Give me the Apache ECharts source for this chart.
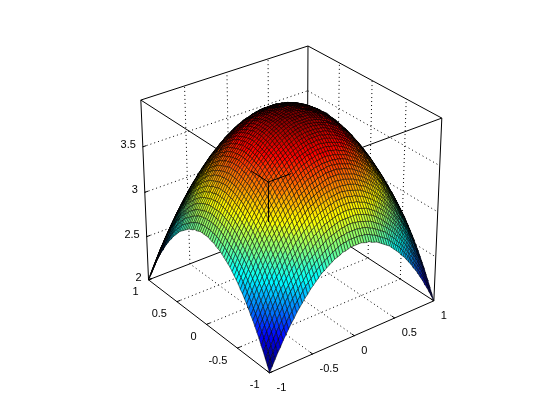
<!DOCTYPE html>
<html><head><meta charset="utf-8"><style>html,body{margin:0;padding:0;background:#fff}#c{width:560px;height:420px}</style>
<script src="https://cdn.jsdelivr.net/npm/echarts@6/dist/echarts.min.js"></script></head><body><div id="c"></div><script>
const xTicks=[-1,-0.5,0,0.5,1], yTicks=[-1,-0.5,0,0.5,1], zTicks=[2,2.5,3,3.5];
const xTickLabels=['-1','-0.5','0','0.5','1'], yTickLabels=['-1','-0.5','0','0.5','1'], zTickLabels=['2','2.5','3','3.5'];
const N=64, meshStep=0.03125;
const xMesh=[];for(let i=0;i<=N;i++)xMesh.push(-1+i*meshStep);
const yMesh=xMesh;
// surface heights read for one quadrant (x,y from -1 to 0); the picture is symmetric in both axes
const zQuadrant=[
[2.00,2.06,2.12,2.18,2.23,2.29,2.34,2.39,2.44,2.48,2.53,2.57,2.61,2.65,2.68,2.72,2.75,2.78,2.81,2.84,2.86,2.88,2.90,2.92,2.94,2.95,2.96,2.98,2.98,2.99,3.00,3.00,3.00],
[2.06,2.12,2.18,2.24,2.30,2.35,2.40,2.45,2.50,2.54,2.59,2.63,2.67,2.71,2.75,2.78,2.81,2.84,2.87,2.90,2.92,2.94,2.96,2.98,3.00,3.01,3.03,3.04,3.05,3.05,3.06,3.06,3.06],
[2.12,2.18,2.24,2.30,2.36,2.41,2.46,2.51,2.56,2.60,2.65,2.69,2.73,2.77,2.80,2.84,2.87,2.90,2.93,2.96,2.98,3.00,3.02,3.04,3.06,3.07,3.09,3.10,3.11,3.11,3.12,3.12,3.12],
[2.18,2.24,2.30,2.36,2.41,2.47,2.52,2.57,2.62,2.66,2.71,2.75,2.79,2.83,2.86,2.90,2.93,2.96,2.99,3.01,3.04,3.06,3.08,3.10,3.12,3.13,3.14,3.15,3.16,3.17,3.17,3.18,3.18],
[2.23,2.30,2.36,2.41,2.47,2.52,2.57,2.62,2.67,2.72,2.76,2.80,2.84,2.88,2.92,2.95,2.98,3.01,3.04,3.07,3.09,3.12,3.14,3.16,3.17,3.19,3.20,3.21,3.22,3.23,3.23,3.23,3.23],
[2.29,2.35,2.41,2.47,2.52,2.58,2.63,2.68,2.73,2.77,2.82,2.86,2.90,2.94,2.97,3.01,3.04,3.07,3.10,3.12,3.15,3.17,3.19,3.21,3.23,3.24,3.25,3.26,3.27,3.28,3.28,3.29,3.29],
[2.34,2.40,2.46,2.52,2.57,2.63,2.68,2.73,2.78,2.82,2.87,2.91,2.95,2.99,3.02,3.06,3.09,3.12,3.15,3.17,3.20,3.22,3.24,3.26,3.28,3.29,3.30,3.32,3.32,3.33,3.34,3.34,3.34],
[2.39,2.45,2.51,2.57,2.62,2.68,2.73,2.78,2.83,2.87,2.92,2.96,3.00,3.04,3.07,3.11,3.14,3.17,3.20,3.22,3.25,3.27,3.29,3.31,3.33,3.34,3.35,3.37,3.37,3.38,3.39,3.39,3.39],
[2.44,2.50,2.56,2.62,2.67,2.73,2.78,2.83,2.88,2.92,2.96,3.01,3.05,3.09,3.12,3.16,3.19,3.22,3.25,3.27,3.30,3.32,3.34,3.36,3.38,3.39,3.40,3.41,3.42,3.43,3.43,3.44,3.44],
[2.48,2.54,2.60,2.66,2.72,2.77,2.82,2.87,2.92,2.97,3.01,3.05,3.09,3.13,3.17,3.20,3.23,3.26,3.29,3.32,3.34,3.37,3.39,3.40,3.42,3.44,3.45,3.46,3.47,3.47,3.48,3.48,3.48],
[2.53,2.59,2.65,2.71,2.76,2.82,2.87,2.92,2.96,3.01,3.05,3.10,3.14,3.17,3.21,3.25,3.28,3.31,3.34,3.36,3.39,3.41,3.43,3.45,3.46,3.48,3.49,3.50,3.51,3.52,3.52,3.53,3.53],
[2.57,2.63,2.69,2.75,2.80,2.86,2.91,2.96,3.01,3.05,3.10,3.14,3.18,3.22,3.25,3.29,3.32,3.35,3.38,3.40,3.43,3.45,3.47,3.49,3.51,3.52,3.53,3.54,3.55,3.56,3.57,3.57,3.57],
[2.61,2.67,2.73,2.79,2.84,2.90,2.95,3.00,3.05,3.09,3.14,3.18,3.22,3.26,3.29,3.33,3.36,3.39,3.42,3.44,3.47,3.49,3.51,3.53,3.55,3.56,3.57,3.59,3.59,3.60,3.61,3.61,3.61],
[2.65,2.71,2.77,2.83,2.88,2.94,2.99,3.04,3.09,3.13,3.17,3.22,3.26,3.30,3.33,3.37,3.40,3.43,3.46,3.48,3.51,3.53,3.55,3.57,3.59,3.60,3.61,3.62,3.63,3.64,3.64,3.65,3.65],
[2.68,2.75,2.80,2.86,2.92,2.97,3.02,3.07,3.12,3.17,3.21,3.25,3.29,3.33,3.37,3.40,3.43,3.46,3.49,3.52,3.54,3.57,3.59,3.60,3.62,3.64,3.65,3.66,3.67,3.67,3.68,3.68,3.68],
[2.72,2.78,2.84,2.90,2.95,3.01,3.06,3.11,3.16,3.20,3.25,3.29,3.33,3.37,3.40,3.44,3.47,3.50,3.53,3.55,3.58,3.60,3.62,3.64,3.66,3.67,3.68,3.69,3.70,3.71,3.71,3.72,3.72],
[2.75,2.81,2.87,2.93,2.98,3.04,3.09,3.14,3.19,3.23,3.28,3.32,3.36,3.40,3.43,3.47,3.50,3.53,3.56,3.58,3.61,3.63,3.65,3.67,3.69,3.70,3.71,3.73,3.73,3.74,3.75,3.75,3.75],
[2.78,2.84,2.90,2.96,3.01,3.07,3.12,3.17,3.22,3.26,3.31,3.35,3.39,3.43,3.46,3.50,3.53,3.56,3.59,3.62,3.64,3.66,3.68,3.70,3.72,3.73,3.75,3.76,3.76,3.77,3.78,3.78,3.78],
[2.81,2.87,2.93,2.99,3.04,3.10,3.15,3.20,3.25,3.29,3.34,3.38,3.42,3.46,3.49,3.53,3.56,3.59,3.62,3.64,3.67,3.69,3.71,3.73,3.75,3.76,3.77,3.78,3.79,3.80,3.80,3.81,3.81],
[2.84,2.90,2.96,3.01,3.07,3.12,3.17,3.22,3.27,3.32,3.36,3.40,3.44,3.48,3.52,3.55,3.58,3.62,3.64,3.67,3.69,3.72,3.74,3.76,3.77,3.79,3.80,3.81,3.82,3.83,3.83,3.83,3.84],
[2.86,2.92,2.98,3.04,3.09,3.15,3.20,3.25,3.30,3.34,3.39,3.43,3.47,3.51,3.54,3.58,3.61,3.64,3.67,3.69,3.72,3.74,3.76,3.78,3.80,3.81,3.82,3.84,3.84,3.85,3.86,3.86,3.86],
[2.88,2.94,3.00,3.06,3.12,3.17,3.22,3.27,3.32,3.37,3.41,3.45,3.49,3.53,3.57,3.60,3.63,3.66,3.69,3.72,3.74,3.76,3.78,3.80,3.82,3.83,3.85,3.86,3.87,3.87,3.88,3.88,3.88],
[2.90,2.96,3.02,3.08,3.14,3.19,3.24,3.29,3.34,3.39,3.43,3.47,3.51,3.55,3.59,3.62,3.65,3.68,3.71,3.74,3.76,3.78,3.80,3.82,3.84,3.85,3.87,3.88,3.89,3.89,3.90,3.90,3.90],
[2.92,2.98,3.04,3.10,3.16,3.21,3.26,3.31,3.36,3.40,3.45,3.49,3.53,3.57,3.60,3.64,3.67,3.70,3.73,3.76,3.78,3.80,3.82,3.84,3.86,3.87,3.89,3.90,3.91,3.91,3.92,3.92,3.92],
[2.94,3.00,3.06,3.12,3.17,3.23,3.28,3.33,3.38,3.42,3.46,3.51,3.55,3.59,3.62,3.66,3.69,3.72,3.75,3.77,3.80,3.82,3.84,3.86,3.88,3.89,3.90,3.91,3.92,3.93,3.93,3.94,3.94],
[2.95,3.01,3.07,3.13,3.19,3.24,3.29,3.34,3.39,3.44,3.48,3.52,3.56,3.60,3.64,3.67,3.70,3.73,3.76,3.79,3.81,3.83,3.85,3.87,3.89,3.90,3.92,3.93,3.94,3.94,3.95,3.95,3.95],
[2.96,3.03,3.09,3.14,3.20,3.25,3.30,3.35,3.40,3.45,3.49,3.53,3.57,3.61,3.65,3.68,3.71,3.75,3.77,3.80,3.82,3.85,3.87,3.89,3.90,3.92,3.93,3.94,3.95,3.96,3.96,3.96,3.96],
[2.98,3.04,3.10,3.15,3.21,3.26,3.32,3.37,3.41,3.46,3.50,3.54,3.59,3.62,3.66,3.69,3.73,3.76,3.78,3.81,3.84,3.86,3.88,3.90,3.91,3.93,3.94,3.95,3.96,3.97,3.97,3.97,3.98],
[2.98,3.05,3.11,3.16,3.22,3.27,3.32,3.37,3.42,3.47,3.51,3.55,3.59,3.63,3.67,3.70,3.73,3.76,3.79,3.82,3.84,3.87,3.89,3.91,3.92,3.94,3.95,3.96,3.97,3.98,3.98,3.98,3.98],
[2.99,3.05,3.11,3.17,3.23,3.28,3.33,3.38,3.43,3.47,3.52,3.56,3.60,3.64,3.67,3.71,3.74,3.77,3.80,3.83,3.85,3.87,3.89,3.91,3.93,3.94,3.96,3.97,3.98,3.98,3.99,3.99,3.99],
[3.00,3.06,3.12,3.17,3.23,3.28,3.34,3.39,3.43,3.48,3.52,3.57,3.61,3.64,3.68,3.71,3.75,3.78,3.80,3.83,3.86,3.88,3.90,3.92,3.93,3.95,3.96,3.97,3.98,3.99,3.99,4.00,4.00],
[3.00,3.06,3.12,3.18,3.23,3.29,3.34,3.39,3.44,3.48,3.53,3.57,3.61,3.65,3.68,3.72,3.75,3.78,3.81,3.83,3.86,3.88,3.90,3.92,3.94,3.95,3.96,3.97,3.98,3.99,4.00,4.00,4.00],
[3.00,3.06,3.12,3.18,3.23,3.29,3.34,3.39,3.44,3.48,3.53,3.57,3.61,3.65,3.68,3.72,3.75,3.78,3.81,3.84,3.86,3.88,3.90,3.92,3.94,3.95,3.96,3.98,3.98,3.99,4.00,4.00,4.00]];
const zGrid=[];for(let i=0;i<=N;i++){const r=[];for(let j=0;j<=N;j++)r.push(zQuadrant[i<=32?i:N-i][j<=32?j:N-j]);zGrid.push(r);}

// camera: least-squares fit of a projective matrix to the box corners seen on screen
const anchors=[[-1,-1,2,270,373],[1,-1,2,433.3,301],[-1,1,2,148.3,280],[1,1,2,307.5,218],[-1,-1,4,268,181],[1,-1,4,442.3,118.7],[-1,1,4,141,100.7],[1,1,4,307.7,45.7]];
function fitCamera(){
  const n=11,A=Array.from({length:n},()=>new Array(n+1).fill(0));
  const add=(r,b)=>{for(let a=0;a<n;a++){for(let c=0;c<n;c++)A[a][c]+=r[a]*r[c];A[a][n]+=r[a]*b;}};
  for(const [X,Y,Z,u,v] of anchors){
    const z=Z-3;
    add([X,Y,z,1,0,0,0,0,-u*X,-u*Y,-u*z],u);
    add([0,0,0,0,X,Y,z,1,-v*X,-v*Y,-v*z],v);
  }
  for(let k=0;k<n;k++){let p=k;for(let r=k+1;r<n;r++)if(Math.abs(A[r][k])>Math.abs(A[p][k]))p=r;[A[k],A[p]]=[A[p],A[k]];
    for(let r=0;r<n;r++)if(r!==k){const f=A[r][k]/A[k][k];for(let c=k;c<=n;c++)A[r][c]-=f*A[k][c];}}
  return A.map((row,k)=>row[n]/row[k]);
}
const P=fitCamera();
function project(x,y,z){z-=3;const w=P[8]*x+P[9]*y+P[10]*z+1;return [(P[0]*x+P[1]*y+P[2]*z+P[3])/w,(P[4]*x+P[5]*y+P[6]*z+P[7])/w];}

function jet(t){t=Math.floor(Math.max(0,Math.min(0.9999,t))*64)/63;
  const f=v=>Math.round(255*Math.max(0,Math.min(1,v)));
  const a=4*t;return `rgb(${f(Math.min(a-1.5,4.5-a))},${f(Math.min(a-0.5,3.5-a))},${f(Math.min(a+0.5,2.5-a))})`;}

const boxLines=[[[-1,1,4],[1,1,4]],[[1,1,4],[1,-1,4]],[[-1,1,4],[-1,-1,4]],[[1,-1,4],[-1,-1,4]],
 [[-1,1,2],[-1,1,4]],[[1,1,2],[1,1,4]],[[1,-1,2],[1,-1,4]],
 [[-1,-1,2],[1,-1,2]],[[-1,-1,2],[-1,1,2]],[[-1,1,2],[1,1,2]],[[1,-1,2],[1,1,2]]];
const overLines=[[[-1,-1,4],[-1,-0.75,4]],[[-1,-1,4],[-0.75,-1,4]],[[-1,-1,4],[-1,-1,3.6]]];
const gridLines=[];
xTicks.forEach(x=>{if(x>-1&&x<1){gridLines.push([[x,-1,2],[x,1,2]],[[x,1,2],[x,1,4]]);}});
yTicks.forEach(y=>{if(y>-1&&y<1){gridLines.push([[-1,y,2],[1,y,2]],[[1,y,2],[1,y,4]]);}});
zTicks.forEach(z=>{if(z>2){gridLines.push([[-1,1,z],[1,1,z]],[[1,1,z],[1,-1,z]]);}});
const tickMarks=[];
xTicks.forEach(x=>tickMarks.push([[x,-1,2],[x,-0.96,2]]));
yTicks.forEach(y=>tickMarks.push([[-1,y,2],[-0.96,y,2]]));
zTicks.forEach(z=>tickMarks.push([[-1,1,z],[-0.96,1,z]]));

const segments=[...gridLines.map(s=>[...s,1]),...boxLines.map(s=>[...s,0]),...tickMarks.map(s=>[...s,0])];
const cells=[];for(let i=N;i>=1;i--)for(let j=N;j>=1;j--)cells.push([i,j]);
const labels=[];
xTicks.forEach((x,k)=>labels.push({p:[x,-1,2],t:xTickLabels[k],dx:7,dy:15,a:'left'}));
yTicks.forEach((y,k)=>labels.push({p:[-1,y,2],t:yTickLabels[k],dx:-10,dy:12.5,a:'right'}));
zTicks.forEach((z,k)=>labels.push({p:[-1,1,z],t:zTickLabels[k],dx:-7,dy:-2,a:'right'}));

const lineRender=(list)=>(params,api)=>{const s=list[params.dataIndex];
  const a=project(...s[0]),b=project(...s[1]);const p=api.coord(a),q=api.coord(b);
  return {type:'line',silent:true,shape:{x1:p[0],y1:p[1],x2:q[0],y2:q[1]},style:{stroke:'#000',lineWidth:1,lineDash:s[2]?[1,3]:null}};};
const chart=echarts.init(document.getElementById('c'),null,{renderer:'canvas'});
const idx=a=>a.map((_,k)=>[k,0]);
chart.setOption({animation:false,backgroundColor:'#fff',
 grid:{left:0,right:0,top:0,bottom:0},
 xAxis:{type:'value',min:0,max:560,show:false},yAxis:{type:'value',min:0,max:420,inverse:true,show:false},
 series:[
 {type:'custom',coordinateSystem:'cartesian2d',data:idx(segments),renderItem:lineRender(segments),clip:false,progressive:0,z:1},
 {type:'custom',coordinateSystem:'cartesian2d',data:cells,clip:false,progressive:0,z:2,renderItem:(params,api)=>{
   const c=cells[params.dataIndex],i=c[0],j=c[1];
   const pts=[[i,j],[i-1,j],[i-1,j-1],[i,j-1]].map(([a,b])=>api.coord(project(xMesh[a],yMesh[b],zGrid[a][b])));
   const ux=pts[2][0]-pts[0][0],uy=pts[2][1]-pts[0][1],vx=pts[3][0]-pts[1][0],vy=pts[3][1]-pts[1][1];
   const area=Math.abs(ux*vy-uy*vx)/2;
   const lw=Math.max(0.5,Math.min(1.3,1.45/Math.sqrt(Math.max(area,0.01))));
   return {type:'polygon',silent:true,shape:{points:pts},style:{fill:jet((zGrid[i-1][j-1]-2)/2),stroke:'#000',lineWidth:lw}};}},
 {type:'custom',coordinateSystem:'cartesian2d',data:idx(overLines),renderItem:lineRender(overLines),clip:false,progressive:0,z:3},
 {type:'custom',coordinateSystem:'cartesian2d',data:idx(labels),clip:false,progressive:0,z:4,renderItem:(params,api)=>{
   const l=labels[params.dataIndex],p=api.coord(project(...l.p));
   return {type:'text',silent:true,style:{text:l.t,x:p[0]+l.dx,y:p[1]+l.dy,fill:'#000',font:'11px "Liberation Sans"',align:l.a,verticalAlign:'middle'}};}}
 ]});
</script></body></html>
